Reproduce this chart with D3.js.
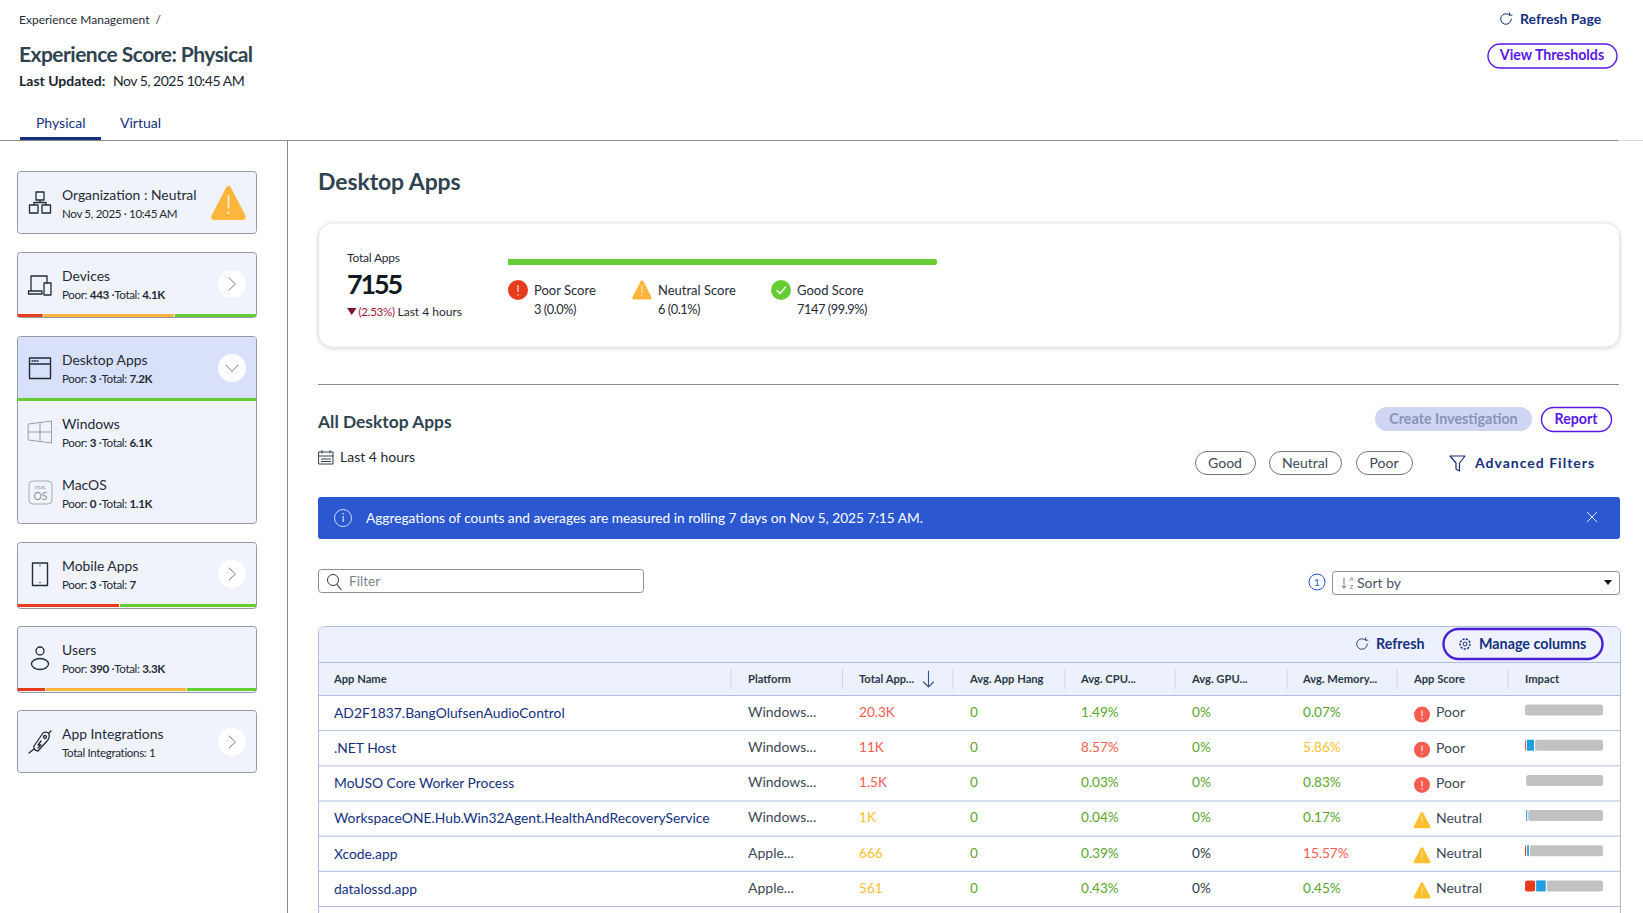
<!DOCTYPE html>
<html>
<head>
<meta charset="utf-8">
<title>Experience Score: Physical</title>
<script src="https://cdn.jsdelivr.net/npm/d3@7"></script>
<style>
  html, body { margin: 0; padding: 0; background: #fff; overflow: hidden; }
  svg { display: block; font-family: Lato, "Noto Sans", sans-serif; }
</style>
</head>
<body>
<div id="viewportContainer"></div>
<script>
/* --- データ: サイドバー --- */
const sideTitles = ["Organization : Neutral", "Devices", "Desktop Apps", "Windows", "MacOS", "Mobile Apps", "Users", "App Integrations"];
const sidePoor = [null, "443", "3", "3", "0", "3", "390", null];
const sideTotal = [null, "4.1K", "7.2K", "6.1K", "1.1K", "7", "3.3K", null];
const sideOther = ["Nov 5, 2025 · 10:45 AM", null, null, null, null, null, null, "Total Integrations: 1"];
const healthCards = ["Devices", "Desktop Apps", "Mobile Apps", "Users"];
const healthPoor = [11, 0, 43, 12];
const healthNeutral = [55, 0, 0, 59];
const healthGood = [34, 100, 57, 29];

/* --- データ: サマリー --- */
const totalApps = 7155;
const scoreNames = ["Poor Score", "Neutral Score", "Good Score"];
const scoreLabels = ["3 (0.0%)", "6 (0.1%)", "7147 (99.9%)"];

/* --- データ: テーブル --- */
const columnNames = ["App Name", "Platform", "Total App...", "Avg. App Hang", "Avg. CPU...", "Avg. GPU...", "Avg. Memory...", "App Score", "Impact"];
const appNames = ["AD2F1837.BangOlufsenAudioControl", ".NET Host", "MoUSO Core Worker Process", "WorkspaceONE.Hub.Win32Agent.HealthAndRecoveryService", "Xcode.app", "datalossd.app"];
const platforms = ["Windows...", "Windows...", "Windows...", "Windows...", "Apple...", "Apple..."];
const totalApp = ["20.3K", "11K", "1.5K", "1K", "666", "561"];
const totalAppStatus = ["poor", "poor", "poor", "neutral", "neutral", "neutral"];
const appHang = ["0", "0", "0", "0", "0", "0"];
const avgCpu = ["1.49%", "8.57%", "0.03%", "0.04%", "0.39%", "0.43%"];
const avgCpuStatus = ["good", "poor", "good", "good", "good", "good"];
const avgGpu = ["0%", "0%", "0%", "0%", "0%", "0%"];
const avgGpuStatus = ["good", "good", "good", "good", "none", "none"];
const avgMemory = ["0.07%", "5.86%", "0.83%", "0.17%", "15.57%", "0.45%"];
const avgMemoryStatus = ["good", "neutral", "good", "good", "poor", "good"];
const appScores = ["Poor", "Poor", "Poor", "Neutral", "Neutral", "Neutral"];
const impactGap = [0, 0, 0.2, 0.2, 0, 0];
const impactRed = [0, 1, 0, 0, 1.5, 13];
const impactBlue = [0, 10.5, 0, 2.6, 3.5, 13.5];
const impactGray = [100, 88.5, 99.8, 97.2, 95, 73.5];

/* --- 色 --- */
const ink = "#2f4450";
const dark = "#1f2c36";
const navy = "#14307f";
const violet = "#5a17e6";
const red = "#e63b1c";
const amber = "#fdb53c";
const green = "#66cc33";
const statusColor = { good: "#5aa62c", neutral: "#fcc02d", poor: "#f75c50", none: "#2a3a45" };

/* --- ビューポート --- */
const viewport = { width: 1643, height: 913 };
const svg = d3
  .select("#viewportContainer")
  .append("svg")
  .attr("width", viewport.width)
  .attr("height", viewport.height)
  .attr("viewBox", "0 0 " + viewport.width + " " + viewport.height);

let label = function (parent, x, y, str, size, color, weight, anchor) {
  return parent
    .append("text")
    .attr("x", x)
    .attr("y", y)
    .attr("dy", "0.35em")
    .attr("font-size", size)
    .attr("fill", color || ink)
    .attr("font-weight", weight || 400)
    .attr("text-anchor", anchor || "start")
    .text(str);
};

let lineIcon = function (parent, x, y, d, color, width) {
  return parent
    .append("path")
    .attr("transform", "translate(" + x + "," + y + ")")
    .attr("d", d)
    .attr("fill", "none")
    .attr("stroke", color || dark)
    .attr("stroke-width", width || 1.3)
    .attr("stroke-linecap", "round")
    .attr("stroke-linejoin", "round");
};

let pillButton = function (x, y, w, h, str, size) {
  svg.append("rect").attr("x", x + 0.5).attr("y", y + 0.5).attr("width", w).attr("height", h)
    .attr("rx", h / 2).attr("fill", "#fff").attr("stroke", violet).attr("stroke-width", 1.4);
  label(svg, x + w / 2, y + h / 2, str, size, violet, 700, "middle");
};

const warnPath = "M0,-9.5 C0.8,-9.5 1.2,-9 1.6,-8.2 L9.5,7 C10,8.4 9.4,9.5 8,9.5 L-8,9.5 C-9.4,9.5 -10,8.4 -9.5,7 L-1.6,-8.2 C-1.2,-9 -0.8,-9.5 0,-9.5 Z";
const refreshPath = "M3.5,-4 A5.3,5.3 0 1 0 5.3,0 M3.6,-6.2 L3.6,-3.8 L6,-3.8";

let warnIcon = function (parent, x, y, k, color) {
  const g = parent.append("g").attr("transform", "translate(" + x + "," + y + ") scale(" + k + ")");
  g.append("path").attr("d", warnPath).attr("fill", color);
  g.append("line").attr("y1", -4.5).attr("y2", 3).attr("stroke", "#fff").attr("stroke-opacity", 0.75).attr("stroke-width", 1);
  g.append("circle").attr("cy", 5.5).attr("r", 0.7).attr("fill", "#fff").attr("fill-opacity", 0.75);
};

let poorIcon = function (parent, x, y, r, color) {
  parent.append("circle").attr("cx", x).attr("cy", y).attr("r", r).attr("fill", color);
  parent.append("line").attr("x1", x).attr("x2", x).attr("y1", y - r * 0.5).attr("y2", y + r * 0.2)
    .attr("stroke", "#fff").attr("stroke-opacity", 0.8).attr("stroke-width", 1.3);
  parent.append("circle").attr("cx", x).attr("cy", y + r * 0.5).attr("r", 0.8).attr("fill", "#fff").attr("fill-opacity", 0.8);
};

/* --- ヘッダー --- */
label(svg, 19, 20, "Experience Management  /", 12, dark).attr("xml:space", "preserve");
label(svg, 19, 55, "Experience Score: Physical", 21, ink, 700).attr("letter-spacing", -0.53);
label(svg, 19, 81, "Last Updated:", 14, "#1b2730", 700);
label(svg, 113, 81, "Nov 5, 2025 10:45 AM", 14, "#1b2730").attr("letter-spacing", -0.5);
label(svg, 36, 123, "Physical", 14, navy);
label(svg, 120, 123, "Virtual", 14, navy);
svg.append("rect").attr("x", 20).attr("y", 137).attr("width", 81).attr("height", 3).attr("fill", navy);
svg.append("line").attr("x1", 0).attr("x2", 1643).attr("y1", 140.5).attr("y2", 140.5).attr("stroke", "#ddd");
svg.append("line").attr("x1", 0).attr("x2", 1618).attr("y1", 140.5).attr("y2", 140.5).attr("stroke", "#8a8a8a");
svg.append("line").attr("x1", 287.5).attr("x2", 287.5).attr("y1", 140).attr("y2", 913).attr("stroke", "#8a8a8a");

lineIcon(svg, 1506, 19, refreshPath, navy, 1);
label(svg, 1520, 19, "Refresh Page", 14, navy, 700);
pillButton(1487.5, 43.5, 129, 24, "View Thresholds", 14.2);

/* --- サイドバー --- */
const sidebar = svg.append("g").attr("id", "sidebar");
const cardBoxes = [
  { top: 171, bottom: 233 },
  { top: 252, bottom: 317 },
  { top: 336, bottom: 523 },
  { top: 542, bottom: 608 },
  { top: 626, bottom: 692 },
  { top: 710, bottom: 772 }
];
const titleY = [195, 276, 360, 424, 485, 566, 650, 734];
const healthY = [314, 398, 604, 688];
const chevronRightY = [284, 574, 742];

const cardX = d3.scaleLinear().domain([0, 100]).range([17.5, 256]);
cardBoxes.forEach(function (box) {
  sidebar.append("rect").attr("x", 17.5).attr("y", box.top + 0.5).attr("width", 239).attr("height", box.bottom - box.top)
    .attr("rx", 3).attr("fill", "#f0f3fc").attr("stroke", "#959aa3");
});
// 選択中カードのヘッダー
sidebar.append("path")
  .attr("d", "M18,398 V339 Q18,337 20,337 H254 Q256,337 256,339 V398 Z")
  .attr("fill", "#d8e0fa");

const stackSeries = d3.stack().keys(["poor", "neutral", "good"])(
  healthCards.map((c, i) => ({ poor: healthPoor[i], neutral: healthNeutral[i], good: healthGood[i] }))
);
const healthColor = d3.scaleOrdinal().domain(["poor", "neutral", "good"]).range([red, amber, green]);
stackSeries.forEach(function (series) {
  sidebar.selectAll(".h-" + series.key)
    .data(series)
    .enter()
    .append("rect")
    .attr("class", "h-" + series.key)
    .attr("x", (d) => cardX(d[0]))
    .attr("y", (d, i) => healthY[i])
    .attr("width", (d) => Math.max(0, cardX(d[1]) - cardX(d[0]) - (d[1] < 100 ? 1 : 0)))
    .attr("height", 3)
    .attr("fill", healthColor(series.key));
});

sideTitles.forEach(function (title, i) {
  label(sidebar, 62, titleY[i], title, 13.9, dark);
  const sub = label(sidebar, 62, titleY[i] + 19, "", 11.6, dark).attr("letter-spacing", -0.35);
  if (sideOther[i]) {
    sub.text(sideOther[i]);
  } else {
    sub.append("tspan").text("Poor: ");
    sub.append("tspan").attr("font-weight", 700).text(sidePoor[i]);
    sub.append("tspan").text(" ·Total: ");
    sub.append("tspan").attr("font-weight", 700).text(sideTotal[i]);
  }
});

chevronRightY.forEach(function (cy) {
  sidebar.append("circle").attr("cx", 232).attr("cy", cy).attr("r", 14).attr("fill", "#fff");
  lineIcon(sidebar, 232, cy, "M-3,-6 L3.5,0 L-3,6", "#7c838b", 1);
});
sidebar.append("circle").attr("cx", 232).attr("cy", 368).attr("r", 14).attr("fill", "#fff");
lineIcon(sidebar, 232, 368, "M-6,-3 L0,3.5 L6,-3", "#7c838b", 1);

warnIcon(sidebar, 228.5, 203, 1.78, amber);

// 組織
lineIcon(sidebar, 40, 203, "M-4,-11 H4 V-3 H-4 Z M-10.5,2 H-2 V10 H-10.5 Z M2,2 H10.5 V10 H2 Z M0,-3 V-0.5 M-6,2 V-0.5 H6 V2");
// デバイス
lineIcon(sidebar, 40, 285, "M-9,6 V-9 H7 V-2 M-11.5,6 H2 V9 H-11.5 Z M4,-2 H11 V10 H4 Z");
// デスクトップ
lineIcon(sidebar, 40, 368, "M-10.5,-10 H10.5 V10.5 H-10.5 Z M-10.5,-4 H10.5 M-8,-7 H-7 M-5.5,-7 H-4.5 M-3,-7 H-2", dark, 1.4);
// Windows
lineIcon(sidebar, 40, 432, "M-11.5,-8 L11.5,-11 V11 L-11.5,8 Z M0,-9.5 V9.5 M-11.5,0 H11.5", "#9b9fa5", 1);
// MacOS
sidebar.append("rect").attr("x", 29).attr("y", 481).attr("width", 23).attr("height", 23).attr("rx", 4).attr("fill", "none").attr("stroke", "#a5a9ae");
label(sidebar, 40.5, 486.5, "mac", 6, "#8f9499", 400, "middle");
label(sidebar, 40.5, 496.5, "OS", 10.5, "#8f9499", 400, "middle");
// モバイル
lineIcon(sidebar, 40, 574, "M-7.5,-11 H7.5 V11.5 H-7.5 Z M0,-8.5 V-8.4 M0,8.5 V8.6", dark, 1.4);
// ユーザー
sidebar.append("circle").attr("cx", 40).attr("cy", 651).attr("r", 4).attr("fill", "none").attr("stroke", dark).attr("stroke-width", 1.3);
sidebar.append("ellipse").attr("cx", 40).attr("cy", 664).attr("rx", 8.5).attr("ry", 5.5).attr("fill", "none").attr("stroke", dark).attr("stroke-width", 1.3);
// 連携
lineIcon(sidebar, 40, 742, "M-6,4 L3,-9 Q7,-11 9,-8 Q10,-4 7,-1 L-2,9 Q-7,8 -6,4 Z M-6,7 L-11,11 M9,-9 L11,-11 M1,-1 L-2,3 L1,3 L-2,6 M5,-5 m-1.5,0 a1.5,1.5 0 1 0 3,0 a1.5,1.5 0 1 0 -3,0");

/* --- サマリーカード --- */
const main = svg.append("g").attr("id", "main");
label(main, 318, 182, "Desktop Apps", 23, ink, 700).attr("letter-spacing", -0.1);

const defs = svg.append("defs");
const shadow = defs.append("filter").attr("id", "cardShadow").attr("x", "-2%").attr("y", "-10%").attr("width", "104%").attr("height", "125%");
shadow.append("feDropShadow").attr("dx", 0).attr("dy", 1).attr("stdDeviation", 2).attr("flood-color", "#000").attr("flood-opacity", 0.18);
main.append("rect").attr("x", 318.5).attr("y", 223).attr("width", 1301).attr("height", 124).attr("rx", 14)
  .attr("fill", "#fff").attr("stroke", "#e6e6e6").attr("filter", "url(#cardShadow)");

label(main, 347, 258, "Total Apps", 12, dark).attr("letter-spacing", -0.2);
label(main, 347, 285, totalApps, 27, "#111a22", 700).attr("letter-spacing", -2.2);
main.append("path").attr("transform", "translate(347,308)").attr("d", "M0,0 H9.5 L4.75,7 Z").attr("fill", "#7d1233");
label(main, 358.5, 312, "(2.53%)", 11.6, "#a3153f").attr("letter-spacing", -0.3);
label(main, 397.5, 312, "Last 4 hours", 12, dark);

const scoreX = d3.scaleLinear().domain([0, totalApps]).range([508, 937]);
main.append("rect").attr("x", scoreX(0)).attr("y", 259).attr("width", scoreX(totalApps) - scoreX(0) - 2).attr("height", 6).attr("fill", green);
main.append("rect").attr("x", scoreX(totalApps) - 4).attr("y", 259).attr("width", 4).attr("height", 6).attr("rx", 2).attr("fill", green);

const legendX = [518, 642, 781];
scoreNames.forEach(function (name, i) {
  const x = legendX[i];
  if (i === 0) poorIcon(main, x, 290, 10, red);
  if (i === 1) warnIcon(main, x, 290, 1, amber);
  if (i === 2) {
    main.append("circle").attr("cx", x).attr("cy", 290).attr("r", 10).attr("fill", green);
    lineIcon(main, x, 290, "M-4,0.5 L-1,3.5 L4.5,-3", "#fff", 1.3);
  }
  label(main, x + 16, 290, name, 13, dark);
  label(main, x + 16, 310, scoreLabels[i], 12.8, dark).attr("letter-spacing", -0.45);
});

main.append("line").attr("x1", 318).attr("x2", 1619).attr("y1", 384.5).attr("y2", 384.5).attr("stroke", "#8a8a8a");

/* --- フィルター行 --- */
label(main, 318, 422, "All Desktop Apps", 17.4, ink, 700);
main.append("rect").attr("x", 1375).attr("y", 407).attr("width", 157).attr("height", 24).attr("rx", 12).attr("fill", "#cfd6f3");
label(main, 1453.5, 419, "Create Investigation", 14.3, "#8a93b5", 700, "middle");
pillButton(1541, 407, 70, 24, "Report", 14.2);

lineIcon(main, 319, 451, "M0,1 H14 V13 H0 Z M0,5 H14 M3,-0.5 V2 M11,-0.5 V2 M2.5,8 H11.5 M2.5,10.5 H11.5", "#333d46", 1);
label(main, 340, 457, "Last 4 hours", 14, dark);

[["Good", 1195, 60], ["Neutral", 1269, 72], ["Poor", 1356, 56]].forEach(function (p) {
  main.append("rect").attr("x", p[1] + 0.5).attr("y", 451.5).attr("width", p[2]).attr("height", 23).attr("rx", 11.5)
    .attr("fill", "#fff").attr("stroke", "#6b7680");
  label(main, p[1] + p[2] / 2, 463, p[0], 14, "#3c4a55", 400, "middle");
});
lineIcon(main, 1450, 456, "M0,0 H15 L9.5,7 V15 L6,13 V7 Z", navy, 1.2);
label(main, 1475, 463, "Advanced Filters", 14, navy, 700).attr("letter-spacing", 1);

main.append("rect").attr("x", 318).attr("y", 497).attr("width", 1302).attr("height", 42).attr("rx", 3).attr("fill", "#2b58d0");
main.append("circle").attr("cx", 343).attr("cy", 518).attr("r", 8.5).attr("fill", "none").attr("stroke", "#cdd9f7");
label(main, 343, 518, "i", 11, "#e6ecfc", 400, "middle");
label(main, 366, 518, "Aggregations of counts and averages are measured in rolling 7 days on Nov 5, 2025 7:15 AM.", 13.7, "#fff");
lineIcon(main, 1592, 517, "M-5,-5 L5,5 M5,-5 L-5,5", "#dfe6fa", 1);

main.append("rect").attr("x", 318.5).attr("y", 569.5).attr("width", 325).attr("height", 23).attr("rx", 3).attr("fill", "#fff").attr("stroke", "#8a8f95");
main.append("circle").attr("cx", 333).attr("cy", 580).attr("r", 5.5).attr("fill", "none").attr("stroke", "#333d46");
lineIcon(main, 337, 584.5, "M0,0 L4,5", "#333d46", 1.2);
label(main, 349, 581, "Filter", 13.6, "#7a838b");

main.append("circle").attr("cx", 1317).attr("cy", 582).attr("r", 8).attr("fill", "none").attr("stroke", "#2b58d0");
label(main, 1317, 582, "1", 10, "#2b58d0", 400, "middle");
main.append("rect").attr("x", 1332.5).attr("y", 571.5).attr("width", 287).attr("height", 23).attr("rx", 3).attr("fill", "#fff").attr("stroke", "#8a8f95");
lineIcon(main, 1344, 583, "M0,-5 V5 M-2,3 L0,5 L2,3", "#6b7680", 1);
label(main, 1349.5, 579, "A", 6, "#6b7680");
label(main, 1349.5, 587, "Z", 6, "#6b7680");
label(main, 1357, 583, "Sort by", 14, "#4a555f");
main.append("path").attr("transform", "translate(1604,580)").attr("d", "M0,0 H8 L4,5 Z").attr("fill", "#10171d");

/* --- テーブル --- */
const table = svg.append("g").attr("id", "tableContainer");
const tableLine = "#aebde0";
table.append("path")
  .attr("d", "M318.5,913 V634 Q318.5,626.5 326,626.5 H1613 Q1620.5,626.5 1620.5,634 V913")
  .attr("fill", "#fff").attr("stroke", tableLine);
table.append("path")
  .attr("d", "M319,695 V634 Q319,627 326,627 H1613 Q1620,627 1620,634 V695 Z")
  .attr("fill", "#edf1fd");
table.append("line").attr("x1", 318).attr("x2", 1621).attr("y1", 662.5).attr("y2", 662.5).attr("stroke", tableLine);
table.append("line").attr("x1", 318).attr("x2", 1621).attr("y1", 695.5).attr("y2", 695.5).attr("stroke", tableLine);

lineIcon(table, 1362, 644, refreshPath, "#2d4a72", 1);
label(table, 1376, 644, "Refresh", 14.3, navy, 700);
table.append("rect").attr("x", 1443.5).attr("y", 629).attr("width", 159).attr("height", 30).attr("rx", 15).attr("fill", "#f0f3fd").attr("stroke", "#4a1fd6").attr("stroke-width", 2.4);
table.append("circle").attr("cx", 1465).attr("cy", 644).attr("r", 2).attr("fill", "none").attr("stroke", navy);
table.append("circle").attr("cx", 1465).attr("cy", 644).attr("r", 5).attr("fill", "none").attr("stroke", navy).attr("stroke-dasharray", "2.2,1.2").attr("stroke-width", 1.4);
label(table, 1479, 644, "Manage columns", 14.3, navy, 700);

// 列の位置
const columnX = d3.scaleOrdinal().domain(columnNames).range([334, 748, 859, 970, 1081, 1192, 1303, 1414, 1525]);
const separatorX = [731, 842.5, 953, 1065, 1175, 1287, 1397, 1508];
separatorX.forEach(function (x) {
  table.append("line").attr("x1", x).attr("x2", x).attr("y1", 669).attr("y2", 689).attr("stroke", "#ccd3e3");
});
columnNames.forEach(function (name) {
  label(table, columnX(name), 679, name, 11.2, "#2a3a45", 700);
});
lineIcon(table, 928.5, 671, "M0,0 V16 M-5,11 L0,16 L5,11", "#3a5489", 1.1);

// 行の位置
const rowY = d3.scaleBand().domain(d3.range(appNames.length)).range([695.5, 906.5]);
const rowMid = (i) => rowY(i) + rowY.bandwidth() / 2;

appNames.forEach(function (name, i) {
  const y = rowMid(i);
  table.append("line").attr("x1", 318).attr("x2", 1621)
    .attr("y1", rowY(i) + rowY.bandwidth()).attr("y2", rowY(i) + rowY.bandwidth()).attr("stroke", tableLine);
  label(table, columnX("App Name"), y, name, 13.85, navy);
  label(table, columnX("Platform"), y - 1, platforms[i], 14, "#3c4a55");
  label(table, columnX("Total App..."), y - 1, totalApp[i], 13.6, statusColor[totalAppStatus[i]]);
  label(table, columnX("Avg. App Hang"), y - 1, appHang[i], 13.6, statusColor.good);
  label(table, columnX("Avg. CPU..."), y - 1, avgCpu[i], 13.6, statusColor[avgCpuStatus[i]]);
  label(table, columnX("Avg. GPU..."), y - 1, avgGpu[i], 13.6, statusColor[avgGpuStatus[i]]);
  label(table, columnX("Avg. Memory..."), y - 1, avgMemory[i], 13.6, statusColor[avgMemoryStatus[i]]);
  if (appScores[i] === "Poor") {
    poorIcon(table, 1422, y + 1.5, 8, "#f75c50");
  } else {
    warnIcon(table, 1422, y + 1.5, 0.85, "#fcc02d");
  }
  label(table, 1436, y - 0.5, appScores[i], 14, "#3c4a55");
});

// インパクトバー
const impactX = d3.scaleLinear().domain([0, 100]).range([1525, 1603]);
const impactData = appNames.map((n, i) => ({ gap: impactGap[i], red: impactRed[i], blue: impactBlue[i], gray: impactGray[i] }));
const impactColor = d3.scaleOrdinal().domain(["gap", "red", "blue", "gray"]).range(["none", red, "#219ee0", "#c2c2c2"]);
d3.stack().keys(["gap", "red", "blue", "gray"])(impactData).forEach(function (series) {
  const inset = (d) => (d[0] > 0 ? 1 : 0);
  table.selectAll(".impact-" + series.key)
    .data(series)
    .enter()
    .append("rect")
    .attr("class", "impact-" + series.key)
    .attr("x", (d) => impactX(d[0]) + inset(d))
    .attr("y", (d, i) => rowMid(i) - 8.5)
    .attr("width", (d) => Math.max(0, impactX(d[1]) - impactX(d[0]) - inset(d)))
    .attr("height", 11)
    .attr("rx", series.key === "blue" ? 0 : 2.5)
    .attr("fill", impactColor(series.key));
});
</script>
</body>
</html>
